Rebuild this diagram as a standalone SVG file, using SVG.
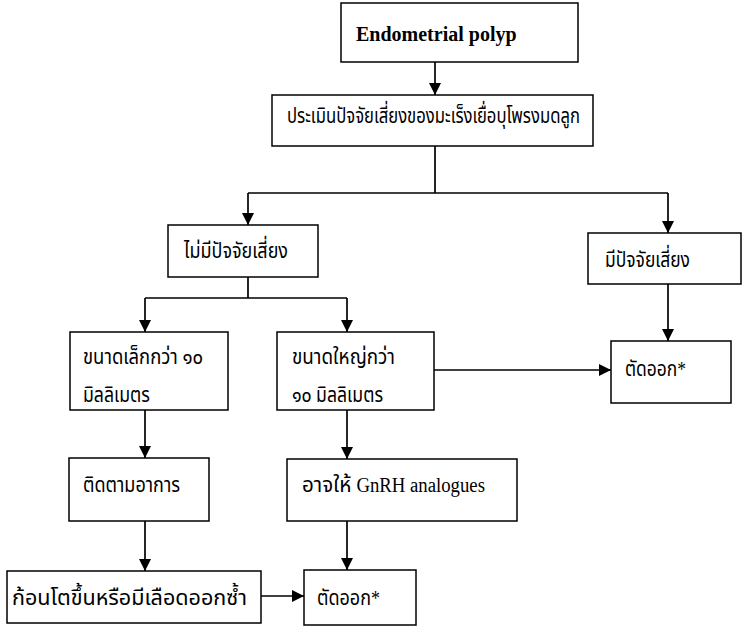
<svg xmlns="http://www.w3.org/2000/svg" width="744" height="628" viewBox="0 0 744 628">
<style>
.box{fill:#fff;stroke:#000;stroke-width:1.5}
.ln{fill:none;stroke:#000;stroke-width:1.7}
.arr{marker-end:url(#ah)}
.t{font-family:"Liberation Serif","Noto Sans Thai","Noto Serif Thai",serif;font-size:22px;fill:#000}
.e{font-size:20px}
.b{font-weight:bold;font-size:20px}
</style>
<defs>
<marker id="ah" markerWidth="12" markerHeight="12" refX="12" refY="6" orient="auto" markerUnits="userSpaceOnUse">
<path d="M0,0 L12,6 L0,12 Z" fill="#000"/>
</marker>
</defs>
<g id="connectors">
<path class="ln arr" d="M435,62 V95"/>
<path class="ln" d="M435,146 V193 M248,193 H668"/>
<path class="ln arr" d="M248,193 V225"/>
<path class="ln arr" d="M668,193 V233"/>
<path class="ln" d="M248,277 V298 M145,298 H347"/>
<path class="ln arr" d="M145,298 V332"/>
<path class="ln arr" d="M347,298 V332"/>
<path class="ln arr" d="M434,370 H611"/>
<path class="ln arr" d="M668,284 V341"/>
<path class="ln arr" d="M145,410 V458"/>
<path class="ln arr" d="M347,410 V459"/>
<path class="ln arr" d="M145,521 V571"/>
<path class="ln arr" d="M347,521 V570"/>
<path class="ln arr" d="M261,596 H304"/>
</g>
<g id="n1"><rect class="box" x="341" y="3" width="237" height="59"/><text class="t b" x="356" y="41">Endometrial polyp</text></g>
<g id="n2"><rect class="box" x="272" y="95" width="321" height="51"/><text class="t" x="287" y="123" textLength="293" lengthAdjust="spacingAndGlyphs">ประเมินปัจจัยเสี่ยงของมะเร็งเยื่อบุโพรงมดลูก</text></g>
<g id="n3"><rect class="box" x="168" y="225" width="150" height="52"/><text class="t" x="184" y="258" textLength="104" lengthAdjust="spacingAndGlyphs">ไม่มีปัจจัยเสี่ยง</text></g>
<g id="n4"><rect class="box" x="588" y="233" width="153" height="51"/><text class="t" x="605" y="267" textLength="85" lengthAdjust="spacingAndGlyphs">มีปัจจัยเสี่ยง</text></g>
<g id="n5"><rect class="box" x="70" y="332" width="158" height="78"/><text class="t" x="83" y="364" textLength="120" lengthAdjust="spacingAndGlyphs">ขนาดเล็กกว่า ๑๐</text><text class="t" x="83" y="402" textLength="67" lengthAdjust="spacingAndGlyphs">มิลลิเมตร</text></g>
<g id="n6"><rect class="box" x="277" y="332" width="157" height="78"/><text class="t" x="292" y="364" textLength="103" lengthAdjust="spacingAndGlyphs">ขนาดใหญ่กว่า</text><text class="t" x="292" y="402" textLength="91" lengthAdjust="spacingAndGlyphs">๑๐ มิลลิเมตร</text></g>
<g id="n7"><rect class="box" x="611" y="341" width="120" height="62"/><text class="t" x="625" y="376" textLength="61" lengthAdjust="spacingAndGlyphs">ตัดออก*</text></g>
<g id="n8"><rect class="box" x="69" y="458" width="140" height="63"/><text class="t" x="83" y="492" textLength="97" lengthAdjust="spacingAndGlyphs">ติดตามอาการ</text></g>
<g id="n9"><rect class="box" x="287" y="459" width="230" height="62"/><text class="t" x="302" y="492" textLength="183" lengthAdjust="spacingAndGlyphs">อาจให้ <tspan class="e">GnRH analogues</tspan></text></g>
<g id="n10"><rect class="box" x="7" y="571" width="254" height="52"/><text class="t" x="12" y="605" textLength="235" lengthAdjust="spacingAndGlyphs">ก้อนโตขึ้นหรือมีเลือดออกซ้ำ</text></g>
<g id="n11"><rect class="box" x="304" y="570" width="112" height="55"/><text class="t" x="317" y="605" textLength="63" lengthAdjust="spacingAndGlyphs">ตัดออก*</text></g>
</svg>
